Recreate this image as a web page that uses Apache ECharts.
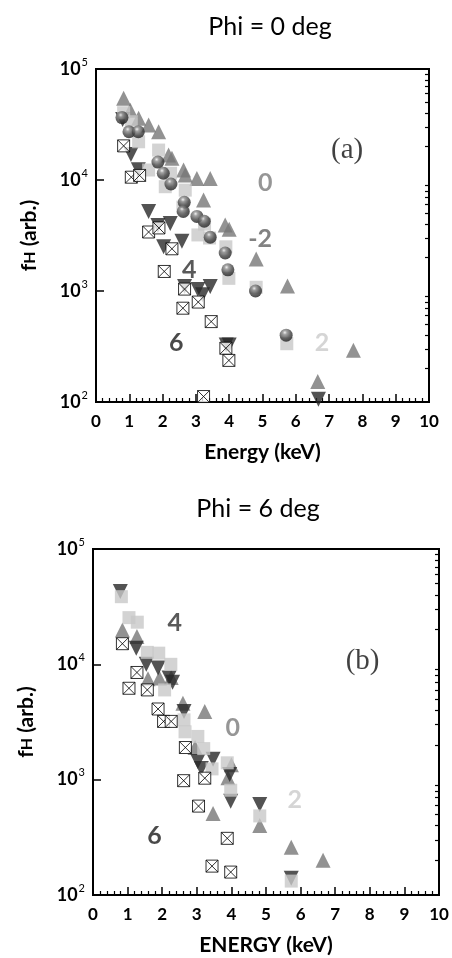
<!DOCTYPE html>
<html>
<head>
<meta charset="utf-8">
<script src="https://cdn.jsdelivr.net/npm/echarts@6/dist/echarts.min.js"></script>
<style>
  html, body { margin: 0; padding: 0; background: #fff; }
  #main { width: 452px; height: 958px; }
</style>
</head>
<body>
<div id="main"></div>
<script>
// panel (a), Phi = 0 deg : [energy keV, fH]
const a_triUp = [[0.83,54500],[1.03,42600],[1.28,36000],[1.58,31300],[1.88,27200],[2.18,16800],[2.28,15700],[2.63,12300],[2.68,11100],[3.03,10300],[3.43,10300],[3.23,6600],[3.88,3940],[4.0,3600],[4.81,1940],[5.75,1110],[7.73,292],[6.66,153]];
const a_triDown = [[0.8,35000],[1.05,17000],[1.27,12400],[1.58,5200],[1.86,3900],[2.23,4050],[2.03,2500],[2.58,2800],[2.66,1100],[3.06,1030],[3.2,925],[3.43,1100],[3.91,327],[4.0,327],[6.68,106]];
const a_square = [[0.83,40400],[1.06,33500],[1.28,22100],[1.58,12300],[1.88,18600],[2.08,8700],[2.24,11500],[2.68,8100],[2.61,5700],[3.06,3200],[3.26,4000],[3.41,3000],[3.9,2500],[3.99,1300],[4.81,1080],[5.73,335]];
const a_sphere = [[0.78,36500],[0.99,27200],[1.27,27200],[1.86,14500],[2.02,11500],[2.25,9200],[2.65,6300],[2.62,5200],[3.03,4700],[3.25,4250],[3.43,3050],[3.88,2200],[3.96,1550],[4.79,1000],[5.71,400]];
const a_boxX = [[0.83,20300],[1.06,10600],[1.31,11000],[1.58,3400],[1.89,3700],[2.28,2400],[2.05,1500],[2.66,1040],[2.61,700],[3.07,795],[3.46,530],[3.9,305],[3.99,237],[3.23,112]];
const a_notes = [['0',5.08,9500],['-2',4.93,2960],['4',2.8,1550],['6',2.41,340],['2',6.79,340],['(a)',7.54,18600]];

// panel (b), Phi = 6 deg
const b_triUp = [[0.85,19800],[1.27,17400],[1.59,7500],[1.92,7600],[2.26,7700],[2.6,4600],[3.23,3900],[2.95,1900],[4.0,1350],[3.9,1040],[3.47,510],[4.82,400],[5.73,260],[6.65,200]];
const b_triDown = [[0.79,42700],[1.25,13800],[1.54,10000],[1.88,9300],[2.2,7600],[2.3,7000],[2.63,3900],[3.03,1440],[3.13,1250],[3.47,1500],[3.95,1110],[3.98,650],[4.82,610],[5.73,140]];
const b_square = [[0.82,38600],[1.04,25400],[1.28,23200],[1.57,12700],[1.9,12500],[2.25,10000],[2.07,6000],[2.63,3300],[2.66,2600],[3.03,2370],[3.2,1860],[3.44,1240],[3.88,1400],[3.98,810],[4.82,485],[5.73,132]];
const b_boxX = [[0.85,15100],[1.27,8500],[1.04,6200],[1.57,6000],[1.88,4100],[2.04,3200],[2.26,3200],[2.67,1900],[2.62,980],[3.23,1030],[3.05,590],[3.88,310],[3.44,178],[3.98,158]];
const b_notes = [['4',2.36,22800],['0',4.04,2810],['2',5.83,670],['6',1.78,327],['(b)',7.79,10700]];

// log minor ticks 2..9 per decade
const minorTicks = [200,300,400,500,600,700,800,900,2000,3000,4000,5000,6000,7000,8000,9000,20000,30000,40000,50000,60000,70000,80000,90000];

const noteColor = { '0': '#7c7c7c', '-2': '#636363', '2': '#cbcbcb', '4': '#303030', '6': '#1c1c1c' };
const FONT = 'Lato';

const sphereFill = {
  type: 'radial', x: 0.4, y: 0.3, r: 0.8,
  colorStops: [
    { offset: 0, color: '#eeeeee' },
    { offset: 0.2, color: '#8c8c8c' },
    { offset: 0.55, color: '#444444' },
    { offset: 1, color: '#111111' }
  ]
};
const crossBox = 'path://M0,0L10,0L10,10L0,10Z M0,0L10,10 M10,0L0,10';

function xAxisFor(idx, name) {
  return {
    type: 'value', gridIndex: idx, min: 0, max: 10, interval: 1,
    name: name, nameLocation: 'middle', nameGap: 40,
    nameTextStyle: { fontFamily: FONT, fontSize: 21, fontWeight: 'bold', color: '#000' },
    axisLine: { lineStyle: { color: '#000', width: 2 } },
    axisTick: { inside: true, length: 8, lineStyle: { color: '#000', width: 1.5 } },
    minorTick: { show: true, splitNumber: 5, length: 4, lineStyle: { color: '#000', width: 1.2 } },
    axisLabel: { margin: 11, fontFamily: FONT, fontSize: 17, fontWeight: 'bold', color: '#000' },
    splitLine: { show: false }
  };
}

function yAxisFor(idx) {
  return {
    type: 'log', logBase: 10, gridIndex: idx, min: 100, max: 100000, interval: 1,
    name: '{f|f}{h|H}{f| (arb.)}', nameLocation: 'middle', nameGap: 56,
    nameTextStyle: {
      rich: {
        f: { fontFamily: FONT, fontSize: 21, fontWeight: 'bold', color: '#000' },
        h: { fontFamily: FONT, fontSize: 16, fontWeight: 'bold', color: '#000' }
      }
    },
    axisLine: { lineStyle: { color: '#000', width: 2 } },
    axisTick: { inside: true, length: 8, lineStyle: { color: '#000', width: 1.5 } },
    axisLabel: {
      margin: 8,
      formatter: v => '{b|10}{s|' + Math.round(Math.log10(v)) + '}',
      rich: {
        b: { fontFamily: FONT, fontSize: 18, fontWeight: 'bold', color: '#000' },
        s: { fontFamily: FONT, fontSize: 11, color: '#000', verticalAlign: 'top', padding: [0, 0, 14, 1] }
      }
    },
    splitLine: { show: false }
  };
}

function minorAxisFor(idx) {
  return {
    type: 'value', gridIndex: idx, min: 2, max: 5,
    axisLine: { show: false },
    axisLabel: { show: false },
    splitLine: { show: false },
    axisTick: {
      inside: true, length: 4,
      customValues: minorTicks.map(v => Math.log10(v)),
      lineStyle: { color: '#000', width: 1.2 }
    }
  };
}

function pointSeries(idx, data, kind) {
  const base = { type: 'scatter', xAxisIndex: idx, yAxisIndex: idx * 2, data: data, silent: true };
  if (kind === 'up') return Object.assign(base, { symbol: 'triangle', symbolSize: 15, itemStyle: { color: '#777777' }, z: 2 });
  if (kind === 'down') return Object.assign(base, { symbol: 'triangle', symbolRotate: 180, symbolSize: 15, itemStyle: { color: '#282828' }, z: 3 });
  if (kind === 'square') return Object.assign(base, { symbol: 'rect', symbolSize: 13, itemStyle: { color: '#c8c8c8' }, z: 4 });
  if (kind === 'sphere') return Object.assign(base, { symbol: 'circle', symbolSize: 13, itemStyle: { color: sphereFill }, z: 5 });
  return Object.assign(base, { symbol: crossBox, symbolSize: 12, itemStyle: { color: '#fff', borderColor: '#000', borderWidth: 1 }, z: 6 });
}

function noteSeries(idx, notes) {
  return {
    type: 'scatter', xAxisIndex: idx, yAxisIndex: idx * 2, silent: true, z: 7,
    symbolSize: 1, itemStyle: { color: 'transparent' },
    data: notes.map(n => {
      const serif = n[0].charAt(0) === '(';
      return {
        name: n[0], value: [n[1], n[2]],
        label: {
          show: true, position: 'inside', formatter: '{b}',
          fontFamily: serif ? 'Liberation Serif' : FONT,
          fontSize: serif ? 29 : 25,
          fontWeight: serif ? 'normal' : 'bold',
          color: serif ? '#111' : noteColor[n[0]]
        }
      };
    })
  };
}

const chart = echarts.init(document.getElementById('main'), null, { renderer: 'canvas' });
chart.setOption({
  animation: false,
  backgroundColor: '#fff',
  title: [
    { text: 'Phi = 0 deg', left: 265, top: 9, textAlign: 'center',
      textStyle: { fontFamily: FONT, fontSize: 25, fontWeight: 'normal', color: '#000' } },
    { text: 'Phi = 6 deg', left: 253, top: 491, textAlign: 'center',
      textStyle: { fontFamily: FONT, fontSize: 25, fontWeight: 'normal', color: '#000' } }
  ],
  grid: [
    { left: 96, top: 69, width: 333, height: 333, show: true, borderColor: '#000', borderWidth: 2 },
    { left: 93, top: 549, width: 346, height: 346, show: true, borderColor: '#000', borderWidth: 2 }
  ],
  xAxis: [xAxisFor(0, 'Energy (keV)'), xAxisFor(1, 'ENERGY (keV)')],
  yAxis: [yAxisFor(0), minorAxisFor(0), yAxisFor(1), minorAxisFor(1)],
  series: [
    pointSeries(0, a_triUp, 'up'),
    pointSeries(0, a_triDown, 'down'),
    pointSeries(0, a_square, 'square'),
    pointSeries(0, a_sphere, 'sphere'),
    pointSeries(0, a_boxX, 'box'),
    noteSeries(0, a_notes),
    pointSeries(1, b_triUp, 'up'),
    pointSeries(1, b_triDown, 'down'),
    pointSeries(1, b_square, 'square'),
    pointSeries(1, b_boxX, 'box'),
    noteSeries(1, b_notes)
  ]
});
</script>
</body>
</html>
